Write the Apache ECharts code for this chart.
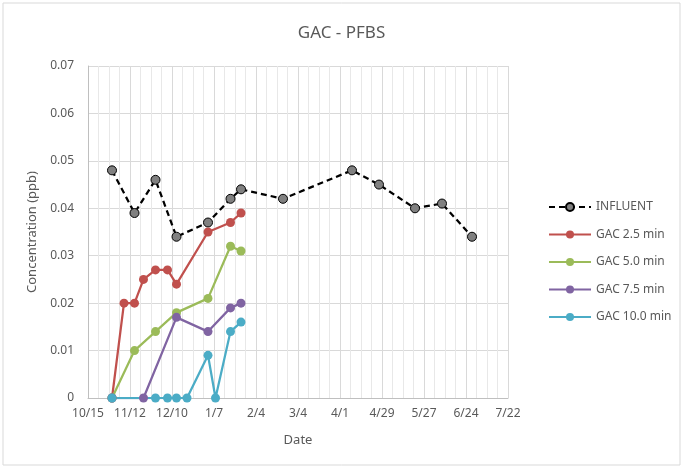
<!DOCTYPE html>
<html>
<head>
<meta charset="utf-8">
<script src="https://cdn.jsdelivr.net/npm/echarts@6/dist/echarts.min.js"></script>
<style>
    html, body { margin: 0; padding: 0; background: #fff; }
    #main { width: 683px; height: 468px; }
</style>
</head>
<body>
<div id="main"></div>
<script type="text/javascript">
    // 数据 (日期 + 浓度 ppb)
    const influentDates = ['2018-10-31', '2018-11-15', '2018-11-29', '2018-12-13', '2019-01-03', '2019-01-18', '2019-01-25',
        '2019-02-22', '2019-04-09', '2019-04-27', '2019-05-21', '2019-06-08', '2019-06-28'];
    const influentValues = [0.048, 0.039, 0.046, 0.034, 0.037, 0.042, 0.044, 0.042, 0.048, 0.045, 0.040, 0.041, 0.034];

    const gac25Dates = ['2018-10-31', '2018-11-08', '2018-11-15', '2018-11-21', '2018-11-29', '2018-12-07', '2018-12-13',
        '2019-01-03', '2019-01-18', '2019-01-25'];
    const gac25Values = [0, 0.020, 0.020, 0.025, 0.027, 0.027, 0.024, 0.035, 0.037, 0.039];

    const gac50Dates = ['2018-10-31', '2018-11-15', '2018-11-29', '2018-12-13', '2019-01-03', '2019-01-18', '2019-01-25'];
    const gac50Values = [0, 0.010, 0.014, 0.018, 0.021, 0.032, 0.031];

    const gac75Dates = ['2018-10-31', '2018-11-21', '2018-12-13', '2019-01-03', '2019-01-18', '2019-01-25'];
    const gac75Values = [0, 0, 0.017, 0.014, 0.019, 0.020];

    const gac100Dates = ['2018-10-31', '2018-11-29', '2018-12-07', '2018-12-13', '2018-12-20', '2019-01-03', '2019-01-08',
        '2019-01-18', '2019-01-25'];
    const gac100Values = [0, 0, 0, 0, 0, 0.009, 0, 0.014, 0.016];

    const axisStart = '2018-10-15';   // x轴起点 (10/15)
    const axisDays = 280;             // 到 7/22
    const tickDays = 28;

    const DAY = 86400000;
    const startMs = Date.parse(axisStart);
    function toDay(d) { return Math.round((Date.parse(d) - startMs) / DAY); }
    function pairs(dates, values) {
        return dates.map(function (d, i) { return [toDay(d), values[i]]; });
    }
    function dayLabel(v) {
        const dt = new Date(startMs + v * DAY);
        return (dt.getUTCMonth() + 1) + '/' + dt.getUTCDate();
    }

    const FONT = 'Noto Sans';
    const TXT = '#595959';

    function lineSeries(name, data, color) {
        return {
            name: name,
            type: 'line',
            data: data,
            symbol: 'circle',
            symbolSize: 9,
            lineStyle: { color: color, width: 2.25 },
            itemStyle: { color: color },
            emphasis: { disabled: true },
            z: 2
        };
    }

    let myChart = echarts.init(document.getElementById('main'));
    let option = {
        animation: false,
        backgroundColor: '#fff',
        textStyle: { fontFamily: FONT },
        title: {
            text: 'GAC - PFBS',
            left: 'center',
            top: 20,
            textStyle: { fontFamily: FONT, fontSize: 17, fontWeight: 'normal', color: TXT }
        },
        graphic: [{
            type: 'rect',
            shape: { x: 3, y: 3, width: 677, height: 462 },
            style: { fill: 'none', stroke: '#d9d9d9', lineWidth: 1 },
            silent: true
        }],
        grid: { left: 88, top: 66, right: 175, bottom: 70 },
        legend: {
            orient: 'vertical',
            left: 543,
            top: 196,
            itemGap: 15.5,
            itemWidth: 42,
            itemHeight: 10,
            textStyle: { fontFamily: FONT, fontSize: 12, color: TXT },
            data: ['INFLUENT', 'GAC 2.5 min', 'GAC 5.0 min', 'GAC 7.5 min', 'GAC 10.0 min']
        },
        xAxis: {
            type: 'value',
            min: 0,
            max: axisDays,
            interval: tickDays,
            name: 'Date',
            nameLocation: 'middle',
            nameGap: 36,
            nameTextStyle: { fontFamily: FONT, fontSize: 13, color: TXT },
            axisLine: { lineStyle: { color: '#bfbfbf', width: 1 } },
            axisTick: { show: false },
            axisLabel: { formatter: dayLabel, color: TXT, fontSize: 12, margin: 10, fontFamily: FONT },
            splitLine: { show: true, lineStyle: { color: '#d9d9d9' } },
            minorTick: { show: false, splitNumber: 4 },
            minorSplitLine: { show: true, lineStyle: { color: '#e8e8e8' } }
        },
        yAxis: {
            type: 'value',
            min: 0,
            max: 0.07,
            interval: 0.01,
            name: 'Concentration (ppb)',
            nameLocation: 'middle',
            nameGap: 48,
            nameTextStyle: { fontFamily: FONT, fontSize: 13, color: TXT },
            axisLine: { show: true, lineStyle: { color: '#bfbfbf', width: 1 } },
            axisTick: { show: false },
            axisLabel: {
                color: TXT, fontSize: 12, margin: 14, fontFamily: FONT,
                formatter: function (v) { return v === 0 ? '0' : v.toFixed(2); }
            },
            splitLine: { show: true, lineStyle: { color: '#d9d9d9' } }
        },
        series: [
            {
                name: 'INFLUENT',
                type: 'line',
                data: pairs(influentDates, influentValues),
                symbol: 'circle',
                symbolSize: 9,
                lineStyle: { color: '#000', width: 2.25, type: [6, 4] },
                itemStyle: { color: '#808080', borderColor: '#000', borderWidth: 1 },
                emphasis: { disabled: true },
                z: 2
            },
            lineSeries('GAC 2.5 min', pairs(gac25Dates, gac25Values), '#c0504d'),
            lineSeries('GAC 5.0 min', pairs(gac50Dates, gac50Values), '#9bbb59'),
            lineSeries('GAC 7.5 min', pairs(gac75Dates, gac75Values), '#8064a2'),
            lineSeries('GAC 10.0 min', pairs(gac100Dates, gac100Values), '#4bacc6')
        ]
    };
    myChart.setOption(option);
</script>
</body>
</html>
